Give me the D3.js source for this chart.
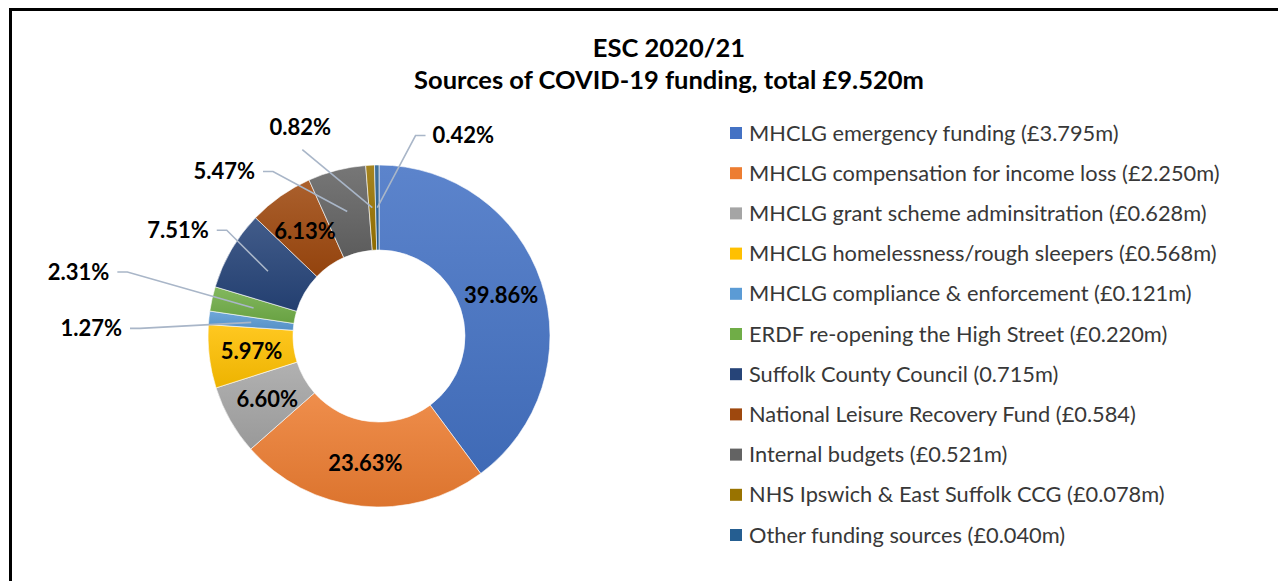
<!DOCTYPE html>
<html>
<head>
<meta charset="utf-8">
<title>ESC 2020/21 COVID-19 funding</title>
<style>
  body { margin: 0; background: #fff; }
  text { font-family: Lato, "Open Sans", sans-serif; }
</style>
</head>
<body>
<script src="https://cdnjs.cloudflare.com/ajax/libs/d3/7.8.5/d3.min.js"></script>
<script>

// funding sources, in the order Excel draws them (clockwise from 12 o'clock)
var sources = [
  "MHCLG emergency funding (£3.795m)",
  "MHCLG compensation for income loss (£2.250m)",
  "MHCLG grant scheme adminsitration (£0.628m)",
  "MHCLG homelessness/rough sleepers (£0.568m)",
  "MHCLG compliance & enforcement (£0.121m)",
  "ERDF re-opening the High Street (£0.220m)",
  "Suffolk County Council (0.715m)",
  "National Leisure Recovery Fund (£0.584)",
  "Internal budgets (£0.521m)",
  "NHS Ipswich & East Suffolk CCG (£0.078m)",
  "Other funding sources (£0.040m)"
];
var amounts = [3.795, 2.250, 0.628, 0.568, 0.121, 0.220, 0.715, 0.584, 0.521, 0.078, 0.040];
var colors = ["#4472C4", "#ED7D31", "#A5A5A5", "#FFC000", "#5B9BD5", "#70AD47",
              "#264478", "#9E480E", "#636363", "#997300", "#255E91"];

// where the small labels were dragged to (offset from slice centre), null = inside
var labelPlace = [null, null, null, null,
  {dx: -160, dy: 6, side: "left"},
  {dx: -175, dy: -36, side: "left"},
  {dx: -90, dy: -41, side: "left"},
  null,
  {dx: -123, dy: -40, side: "left"},
  {dx: -72, dy: -80, side: "above"},
  {dx: 86, dy: -72, side: "right"}];

var width = 1278, height = 581;
var cx = 379, cy = 336, outerR = 171, innerR = 86;

var svg = d3.select("body").append("svg")
    .attr("width", width)
    .attr("height", height);

// chart frame
svg.append("rect")
    .attr("x", 10.5).attr("y", 9.5)
    .attr("width", 1400).attr("height", 700)
    .attr("fill", "none")
    .attr("stroke", "#000")
    .attr("stroke-width", 3);

// title
var title = svg.append("text")
    .attr("text-anchor", "middle")
    .attr("font-weight", "bold")
    .attr("font-size", 25.5)
    .attr("fill", "#000");
title.append("tspan").attr("x", 669).attr("y", 57).text("ESC 2020/21");
title.append("tspan").attr("x", 669).attr("y", 89).text("Sources of COVID-19 funding, total £9.520m");

var total = d3.sum(amounts);
var pie = d3.pie().sort(null).value(function(d) { return d; });
var arcs = pie(amounts);

var arc = d3.arc().innerRadius(innerR).outerRadius(outerR);
var midArc = d3.arc().innerRadius((innerR + outerR) / 2).outerRadius((innerR + outerR) / 2);

// soft top-to-bottom shading like the Excel style
var defs = svg.append("defs");
colors.forEach(function(c, i) {
  var g = defs.append("linearGradient")
      .attr("id", "grad" + i)
      .attr("x1", 0).attr("y1", 0).attr("x2", 0).attr("y2", 1);
  g.append("stop").attr("offset", "0%").attr("stop-color", d3.interpolateRgb(c, "#fff")(0.13));
  g.append("stop").attr("offset", "100%").attr("stop-color", d3.interpolateRgb(c, "#000")(0.07));
});

var donut = svg.append("g").attr("transform", "translate(" + cx + "," + cy + ")");

donut.selectAll("path")
    .data(arcs)
    .enter()
    .append("path")
    .attr("d", arc)
    .attr("fill", function(d, i) { return "url(#grad" + i + ")"; })
    .attr("stroke", "#fff")
    .attr("stroke-width", 0.6);

function pct(v) {
  return (v / total * 100).toFixed(2) + "%";
}

// labels
var labelG = svg.append("g");
arcs.forEach(function(d, i) {
  var c = midArc.centroid(d);
  var px = cx + c[0], py = cy + c[1];
  var place = labelPlace[i];
  var lx = px, ly = py;
  if (place) { lx = px + place.dx; ly = py + place.dy; }

  var t = labelG.append("text")
      .attr("x", lx)
      .attr("y", ly)
      .attr("dy", "0.35em")
      .attr("text-anchor", "middle")
      .attr("font-weight", "bold")
      .attr("font-size", 22)
      .attr("fill", "#000")
      .text(pct(amounts[i]));

  if (place) {
    var w = t.node().getComputedTextLength();
    var pts;
    if (place.side === "left") {
      var sx = lx + w / 2 + 8;
      pts = [[sx, ly], [sx + 10, ly], [px, py]];
    } else if (place.side === "right") {
      var rx = lx - w / 2 - 7;
      pts = [[rx, ly], [rx - 10, ly], [px, py]];
    } else {
      pts = [[lx + 2, ly + 22], [px, py]];
    }
    labelG.insert("path", "text")
        .attr("d", d3.line()(pts))
        .attr("fill", "none")
        .attr("stroke", "#A9B6C8")
        .attr("stroke-width", 1.6);
  }
});

// legend
var legend = svg.append("g").attr("transform", "translate(730,133)");
var rows = legend.selectAll("g")
    .data(sources)
    .enter()
    .append("g")
    .attr("transform", function(d, i) { return "translate(0," + (i * 40.2) + ")"; });

rows.append("rect")
    .attr("x", 0).attr("y", -6)
    .attr("width", 12).attr("height", 12)
    .attr("fill", function(d, i) { return colors[i]; });

rows.append("text")
    .attr("x", 19)
    .attr("dy", "0.35em")
    .attr("font-size", 21.8)
    .attr("fill", "#383838")
    .text(function(d) { return d; });

</script>
</body>
</html>
